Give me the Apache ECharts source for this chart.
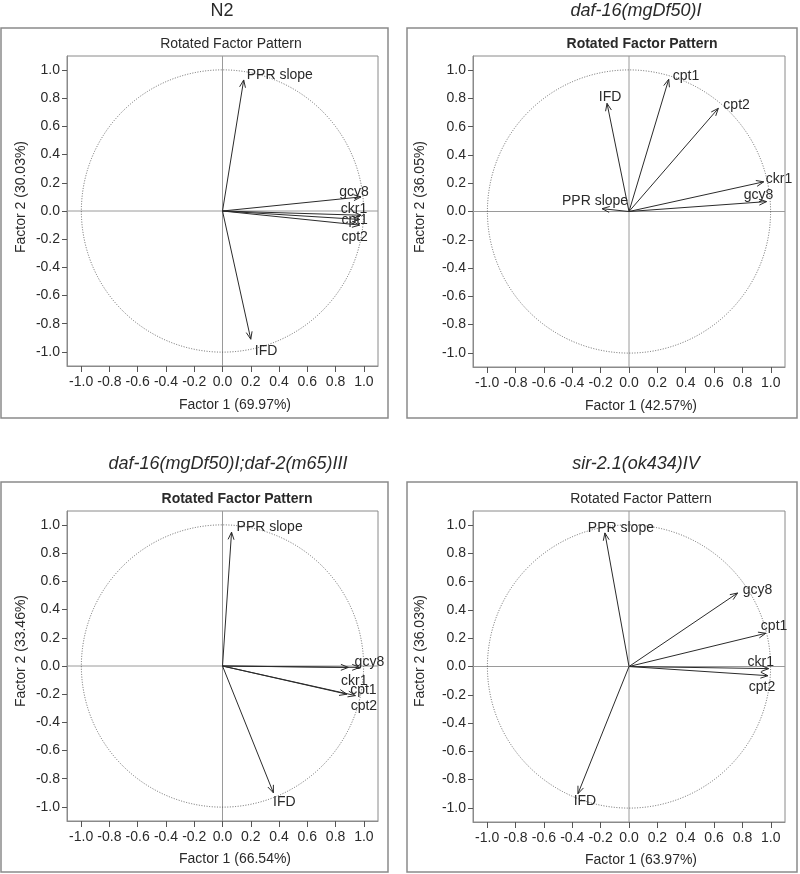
<!DOCTYPE html>
<html>
<head>
<meta charset="utf-8">
<script src="https://cdn.jsdelivr.net/npm/echarts@6/dist/echarts.min.js"></script>
<style>
html,body{margin:0;padding:0;background:#fff;}
#chart{width:800px;height:874px;}
</style>
</head>
<body>
<div id="chart"></div>
<script>
// ---------------- DATA ----------------
const variables = ['PPR slope', 'gcy8', 'ckr1', 'cpt1', 'cpt2', 'IFD'];
const panelTitles = ['N2', 'daf-16(mgDf50)I', 'daf-16(mgDf50)I;daf-2(m65)III', 'sir-2.1(ok434)IV'];
const factor1Pct = ['69.97', '42.57', '66.54', '63.97'];
const factor2Pct = ['30.03', '36.05', '33.46', '36.03'];
const tickValues = [-1.0, -0.8, -0.6, -0.4, -0.2, 0.0, 0.2, 0.4, 0.6, 0.8, 1.0];

// loadings (Factor 1, Factor 2) in the order of `variables`
const n2Factor1 = [0.15, 0.98, 0.98, 0.97, 0.97, 0.20];
const n2Factor2 = [0.93, 0.10, -0.03, -0.06, -0.10, -0.91];
const daf16Factor1 = [-0.19, 0.97, 0.95, 0.28, 0.63, -0.155];
const daf16Factor2 = [0.02, 0.07, 0.21, 0.935, 0.73, 0.765];
const daf16daf2Factor1 = [0.064, 0.97, 0.89, 0.94, 0.88, 0.36];
const daf16daf2Factor2 = [0.95, -0.01, -0.01, -0.21, -0.20, -0.90];
const sir21Factor1 = [-0.17, 0.766, 0.985, 0.965, 0.98, -0.36];
const sir21Factor2 = [0.945, 0.52, -0.015, 0.235, -0.065, -0.90];

const factor1Sets = [n2Factor1, daf16Factor1, daf16daf2Factor1, sir21Factor1];
const factor2Sets = [n2Factor2, daf16Factor2, daf16daf2Factor2, sir21Factor2];

// ---------------- LAYOUT (positions / styles) ----------------
const FONT = 'Liberation Sans, Arial, Helvetica, sans-serif';
const TEXT = '#2a2a2a';
const grids = [
  {left: 67, top: 56, width: 311, height: 310},
  {left: 473, top: 56, width: 312, height: 311},
  {left: 67, top: 511, width: 311, height: 310},
  {left: 473, top: 511, width: 312, height: 311}
];
const outerBoxes = [
  {x: 1, y: 28, w: 387, h: 390},
  {x: 407, y: 28, w: 390, h: 390},
  {x: 1, y: 482, w: 387, h: 390},
  {x: 407, y: 482, w: 390, h: 390}
];
const panelTitlePos = [[222, 11], [636, 11], [228, 464], [636, 464]];
const innerTitlePos = [[231, 44], [642, 44], [237, 499], [641, 499]];
const innerTitleBold = [false, true, true, false];
const xNamePos = [[235, 405], [641, 406], [235, 859], [641, 860]];
const yNamePos = [[21, 197], [420, 197], [21, 651], [420, 651]];
// label offsets [dx, dy, align] per variable
const labelLayout = [
  [[3, -5, 'left'], [-7, -5, 'center'], [-7, -6, 'center'], [-5, 1, 'center'], [-5, 12, 'center'], [4, 12, 'left']],
  [[-7, -8, 'center'], [-8, -6, 'center'], [2, -3, 'left'], [4, -3, 'left'], [5, -3, 'left'], [3, -6, 'center']],
  [[5, -5, 'left'], [-5, -5, 'left'], [6, 14, 'center'], [8, -5, 'center'], [17, 12, 'center'], [11, 9, 'center']],
  [[16, -5, 'center'], [5, -3, 'left'], [-8, -6, 'center'], [-5, -7, 'left'], [-6, 11, 'center'], [7, 7, 'center']]
];

const chart = echarts.init(document.getElementById('chart'), null, {renderer: 'canvas'});

const xAxes = [], yAxes = [], series = [], graphics = [];

grids.forEach(function (g, p) {
  xAxes.push({
    type: 'value', gridIndex: p, min: -1.1, max: 1.1,
    axisLine: {show: true, onZero: false, lineStyle: {color: '#8a8a8a', width: 1}},
    axisTick: {show: true, length: 6, inside: false, customValues: tickValues, lineStyle: {color: '#555'}},
    axisLabel: {customValues: tickValues, interval: 0, margin: 9, fontSize: 14, fontFamily: FONT, color: TEXT,
      formatter: function (v) { return v.toFixed(1); }},
    splitLine: {show: false}
  });
  yAxes.push({
    type: 'value', gridIndex: p, min: -1.1, max: 1.1,
    axisLine: {show: true, onZero: false, lineStyle: {color: '#8a8a8a', width: 1}},
    axisTick: {show: true, length: 5, inside: false, customValues: tickValues, lineStyle: {color: '#555'}},
    axisLabel: {customValues: tickValues, interval: 0, margin: 7, fontSize: 14, fontFamily: FONT, color: TEXT,
      formatter: function (v) { return v.toFixed(1); }},
    splitLine: {show: false}
  });

  // unit circle + zero reference lines
  series.push({
    type: 'custom', xAxisIndex: p, yAxisIndex: p, silent: true, z: 1,
    data: [[0, 0]],
    renderItem: function (params, api) {
      const c = api.coord([0, 0]);
      const s = api.size([1, 1]);
      const r = (s[0] + s[1]) / 2;
      const xl = api.coord([-1.1, 0]), xr = api.coord([1.1, 0]);
      const yb = api.coord([0, -1.1]), yt = api.coord([0, 1.1]);
      return {
        type: 'group',
        children: [
          {type: 'line', shape: {x1: xl[0], y1: xl[1], x2: xr[0], y2: xr[1]}, style: {stroke: '#9a9a9a', lineWidth: 1}},
          {type: 'line', shape: {x1: yb[0], y1: yb[1], x2: yt[0], y2: yt[1]}, style: {stroke: '#9a9a9a', lineWidth: 1}},
          {type: 'circle', shape: {cx: c[0], cy: c[1], r: r},
            style: {fill: 'none', stroke: '#444', lineWidth: 0.8, lineDash: [1, 1.6]}}
        ]
      };
    }
  });

  // arrows with labels
  const f1 = factor1Sets[p], f2 = factor2Sets[p];
  const data = variables.map(function (name, i) { return [f1[i], f2[i], i]; });
  series.push({
    type: 'custom', xAxisIndex: p, yAxisIndex: p, silent: true, z: 3,
    data: data,
    renderItem: function (params, api) {
      const i = api.value(2);
      const o = api.coord([0, 0]);
      const t = api.coord([api.value(0), api.value(1)]);
      const ang = Math.atan2(t[1] - o[1], t[0] - o[0]);
      const L = 8, A = 0.38;
      const h1 = [t[0] - L * Math.cos(ang - A), t[1] - L * Math.sin(ang - A)];
      const h2 = [t[0] - L * Math.cos(ang + A), t[1] - L * Math.sin(ang + A)];
      const lay = labelLayout[p][i];
      return {
        type: 'group',
        children: [
          {type: 'line', shape: {x1: o[0], y1: o[1], x2: t[0], y2: t[1]}, style: {stroke: '#2b2b2b', lineWidth: 1}},
          {type: 'polyline', shape: {points: [h1, t, h2]}, style: {stroke: '#2b2b2b', lineWidth: 1, fill: 'none'}},
          {type: 'text', x: t[0] + lay[0], y: t[1] + lay[1],
            style: {text: variables[i], textAlign: lay[2], textVerticalAlign: 'middle',
              fontSize: 14, fontFamily: FONT, fill: TEXT}}
        ]
      };
    }
  });

  const b = outerBoxes[p];
  graphics.push({type: 'rect', shape: {x: b.x, y: b.y, width: b.w, height: b.h},
    style: {fill: 'none', stroke: '#8a8a8a', lineWidth: 1.5}, silent: true});
  graphics.push({type: 'text', x: panelTitlePos[p][0], y: panelTitlePos[p][1],
    style: {text: panelTitles[p], textAlign: 'center', textVerticalAlign: 'middle',
      fontSize: 18, fontFamily: FONT, fontStyle: p === 0 ? 'normal' : 'italic', fill: TEXT}});
  graphics.push({type: 'text', x: innerTitlePos[p][0], y: innerTitlePos[p][1],
    style: {text: 'Rotated Factor Pattern', textAlign: 'center', textVerticalAlign: 'middle',
      fontSize: 14, fontFamily: FONT, fontWeight: innerTitleBold[p] ? 'bold' : 'normal', fill: TEXT}});
  graphics.push({type: 'text', x: xNamePos[p][0], y: xNamePos[p][1],
    style: {text: 'Factor 1 (' + factor1Pct[p] + '%)', textAlign: 'center', textVerticalAlign: 'middle',
      fontSize: 14, fontFamily: FONT, fill: TEXT}});
  graphics.push({type: 'text', x: yNamePos[p][0], y: yNamePos[p][1], rotation: Math.PI / 2,
    style: {text: 'Factor 2 (' + factor2Pct[p] + '%)', textAlign: 'center', textVerticalAlign: 'middle',
      fontSize: 14, fontFamily: FONT, fill: TEXT}});
});

chart.setOption({
  animation: false,
  backgroundColor: '#fff',
  grid: grids.map(function (g) {
    return {left: g.left, top: g.top, width: g.width, height: g.height, show: true,
      borderColor: '#8a8a8a', borderWidth: 1, backgroundColor: 'transparent', containLabel: false};
  }),
  xAxis: xAxes,
  yAxis: yAxes,
  series: series,
  graphic: graphics
});
</script>
</body>
</html>
